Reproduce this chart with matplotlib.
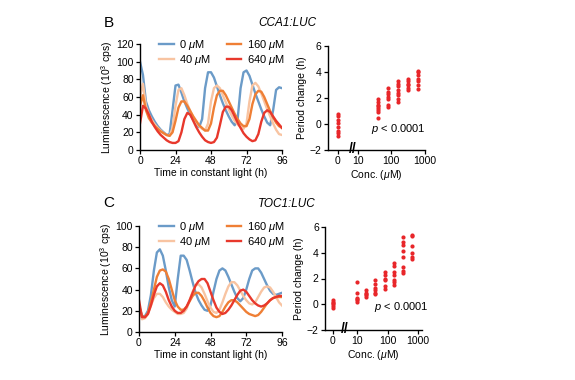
"""
Circadian luciferase traces (CCA1:LUC, TOC1:LUC) and period change vs. dose.
"""

import matplotlib
matplotlib.use('Agg')
import matplotlib.pyplot as plt
import matplotlib.transforms as mtransforms
import numpy as np

plt.rcParams['font.family'] = ['Liberation Sans', 'DejaVu Sans']
plt.rcParams['mathtext.fontset'] = 'custom'
plt.rcParams['mathtext.rm'] = 'Liberation Sans'
plt.rcParams['mathtext.it'] = 'Liberation Sans:italic'
plt.rcParams['mathtext.bf'] = 'Liberation Sans:bold'

# ---- data -------------------------------------------------------------
time_h = np.arange(0, 97, 2)
doses = ['0', '40', '160', '640']
dose_colors = ['#6b9bc8', '#f8c4a2', '#ef7f35', '#e8382c']

cca1_0 = [100, 85, 55, 45, 38, 32, 27, 23, 20, 17, 18, 45, 73, 74, 65, 55, 47,
          40, 34, 29, 26, 35, 70, 88, 88, 82, 72, 62, 53, 45, 38, 32, 28, 35,
          70, 88, 90, 84, 74, 64, 55, 46, 38, 31, 28, 45, 68, 71, 70]
cca1_40 = [60, 75, 50, 40, 34, 29, 25, 22, 19, 17, 16, 25, 50, 68, 70, 62, 52,
           44, 37, 31, 27, 24, 22, 30, 55, 70, 73, 70, 62, 54, 46, 39, 33, 29,
           26, 24, 30, 55, 73, 76, 72, 64, 55, 46, 38, 30, 23, 18, 17]
cca1_160 = [50, 62, 45, 36, 31, 27, 24, 21, 19, 17, 16, 20, 33, 48, 55, 55, 50,
            44, 38, 33, 28, 25, 22, 22, 30, 48, 62, 67, 67, 62, 55, 48, 41, 35,
            30, 27, 27, 35, 52, 63, 67, 66, 60, 52, 44, 37, 31, 27, 25]
cca1_640 = [30, 50, 47, 40, 32, 26, 21, 17, 14, 11, 9, 8, 8, 10, 20, 35, 42,
            40, 33, 26, 20, 15, 11, 9, 8, 9, 14, 28, 43, 49, 49, 45, 38, 31,
            25, 19, 15, 12, 10, 11, 18, 32, 42, 45, 43, 38, 33, 29, 25]

toc1_0 = [25, 15, 15, 20, 35, 58, 75, 78, 72, 58, 42, 30, 24, 50, 72, 72, 68,
          58, 47, 37, 30, 25, 21, 20, 25, 38, 50, 58, 60, 58, 52, 45, 38, 32,
          29, 32, 40, 50, 58, 60, 60, 56, 50, 44, 39, 36, 35, 36, 37]
toc1_40 = [22, 12, 13, 17, 25, 32, 36, 36, 33, 28, 24, 21, 19, 17, 17, 18, 22,
           30, 38, 44, 45, 42, 36, 29, 23, 19, 18, 21, 28, 36, 43, 47, 47, 44,
           39, 34, 30, 27, 26, 28, 33, 38, 42, 43, 42, 38, 33, 28, 25]
toc1_160 = [25, 15, 14, 18, 28, 40, 52, 58, 59, 57, 50, 40, 30, 24, 21, 21, 24,
            29, 34, 37, 37, 34, 29, 23, 18, 15, 14, 15, 19, 24, 28, 30, 30, 28,
            25, 22, 19, 17, 16, 15, 16, 19, 23, 27, 30, 32, 33, 33, 33]
toc1_640 = [30, 14, 14, 17, 25, 35, 43, 46, 44, 38, 30, 24, 20, 18, 18, 20, 24,
            30, 37, 44, 48, 50, 50, 46, 38, 30, 23, 19, 17, 18, 21, 25, 30, 35,
            39, 40, 38, 34, 30, 27, 25, 24, 25, 27, 30, 32, 33, 34, 34]

# period change (h) per concentration (uM)
cca1_conc = [0, 40, 80, 160, 320, 640]
cca1_period = [
    [0.8, 0.6, 0.3, 0.1, -0.2, -0.5, -0.7, -0.9],
    [0.5, 0.9, 1.1, 1.2, 1.4, 1.5, 1.7, 1.9],
    [1.3, 1.5, 1.9, 2.1, 2.3, 2.5, 2.8],
    [1.7, 1.9, 2.2, 2.4, 2.6, 2.9, 3.1, 3.3],
    [2.6, 2.8, 3.0, 3.1, 3.3, 3.5],
    [2.7, 3.0, 3.3, 3.5, 3.8, 4.0, 4.1],
]
toc1_conc = [0, 10, 20, 40, 80, 160, 320, 640]
toc1_period = [
    [0.3, 0.2, 0.1, 0.0, -0.1, -0.3],
    [1.7, 0.9, 0.5, 0.4, 0.3, 0.2],
    [1.1, 0.9, 0.8, 0.7, 0.6],
    [1.9, 1.6, 1.3, 1.1, 0.9, 0.8],
    [2.5, 2.3, 2.0, 1.9, 1.4, 1.2],
    [3.2, 3.0, 2.5, 2.3, 1.9, 1.7, 1.5],
    [5.2, 4.8, 4.6, 4.1, 3.7, 2.9, 2.6, 2.4],
    [5.4, 5.3, 4.5, 4.0, 3.7, 3.5],
]

FS = 7.5


def style_axes(ax):
    for side in ('top', 'right'):
        ax.spines[side].set_visible(False)
    for side in ('left', 'bottom'):
        ax.spines[side].set_linewidth(1.0)
    ax.tick_params(direction='out', length=3, width=0.9, labelsize=FS, pad=1.5)


def draw_traces(ax, traces, ymax, legend_y):
    for vals, dose, col in zip(traces, doses, dose_colors):
        ax.plot(time_h, vals, color=col, lw=1.7, label=dose + r' $\mu$M')
    ax.set_xlim(0, 96)
    ax.set_ylim(0, ymax)
    ax.set_xticks([0, 24, 48, 72, 96])
    ax.set_yticks(np.arange(0, ymax + 1, 20))
    ax.set_xlabel('Time in constant light (h)', fontsize=FS, labelpad=1)
    ax.set_ylabel(r'Luminescence (10$^3$ cps)', fontsize=FS, labelpad=1)
    style_axes(ax)
    ax.legend(ncol=2, fontsize=FS + 0.5, frameon=False, handlelength=1.3,
              handletextpad=0.5, columnspacing=1.4, labelspacing=0.1,
              loc='upper right', bbox_to_anchor=(1.02, legend_y),
              borderaxespad=0, borderpad=0)


def draw_period(ax, conc, period, zero_pos, xlim, break_pos, ptext_xy):
    def pos(c):
        return zero_pos if c == 0 else np.log10(c)

    for c, vals in zip(conc, period):
        ax.scatter([pos(c)] * len(vals), vals, s=9, color='#e8262a',
                   linewidths=0, zorder=3)
    ax.set_xlim(*xlim)
    ax.set_ylim(-2, 6)
    ax.set_yticks([-2, 0, 2, 4, 6])
    ax.set_xticks([zero_pos, 1, 2, 3])
    ax.set_xticklabels(['0', '10', '100', '1000'])
    ax.set_xlabel(r'Conc. ($\mu$M)', fontsize=FS, labelpad=1)
    ax.set_ylabel('Period change (h)', fontsize=FS, labelpad=2)
    style_axes(ax)
    trans = mtransforms.blended_transform_factory(ax.transData, ax.transAxes)
    ax.text(break_pos, 0.01, '//', transform=trans, ha='center', va='center',
            fontsize=10, fontweight='bold', clip_on=False)
    ax.text(ptext_xy[0], ptext_xy[1], r'$p$ < 0.0001', fontsize=FS + 0.5,
            ha='center', va='center')


fig = plt.figure(figsize=(5.75, 3.8), dpi=100)
W, H = 575.0, 380.0


def px_axes(left, top, right, bottom):
    return fig.add_axes([left / W, 1 - bottom / H, (right - left) / W,
                         (bottom - top) / H])


ax_b = px_axes(140, 44, 282, 150)
draw_traces(ax_b, [cca1_0, cca1_40, cca1_160, cca1_640], 120, 1.06)
ax_bp = px_axes(328, 46, 425, 150)
draw_period(ax_bp, cca1_conc, cca1_period, 0.41, (0.12, 3.0), 0.86,
            (2.2, -0.4))

ax_c = px_axes(139, 226, 282, 332)
draw_traces(ax_c, [toc1_0, toc1_40, toc1_160, toc1_640], 100, 1.06)
ax_cp = px_axes(325, 227, 422, 330)
draw_period(ax_cp, toc1_conc, toc1_period, 0.21, (-0.05, 3.13), 0.6,
            (2.44, -0.25))

fig.text(109 / W, 1 - 23 / H, 'B', fontsize=11, ha='center', va='center')
fig.text(109 / W, 1 - 203 / H, 'C', fontsize=11, ha='center', va='center')
fig.text(258 / W, 1 - 23 / H, 'CCA1:LUC', fontsize=8.5, style='italic',
         ha='left', va='center')
fig.text(258 / W, 1 - 204 / H, 'TOC1:LUC', fontsize=8.5, style='italic',
         ha='left', va='center')

fig.savefig('out.png', dpi=100, facecolor='white')
